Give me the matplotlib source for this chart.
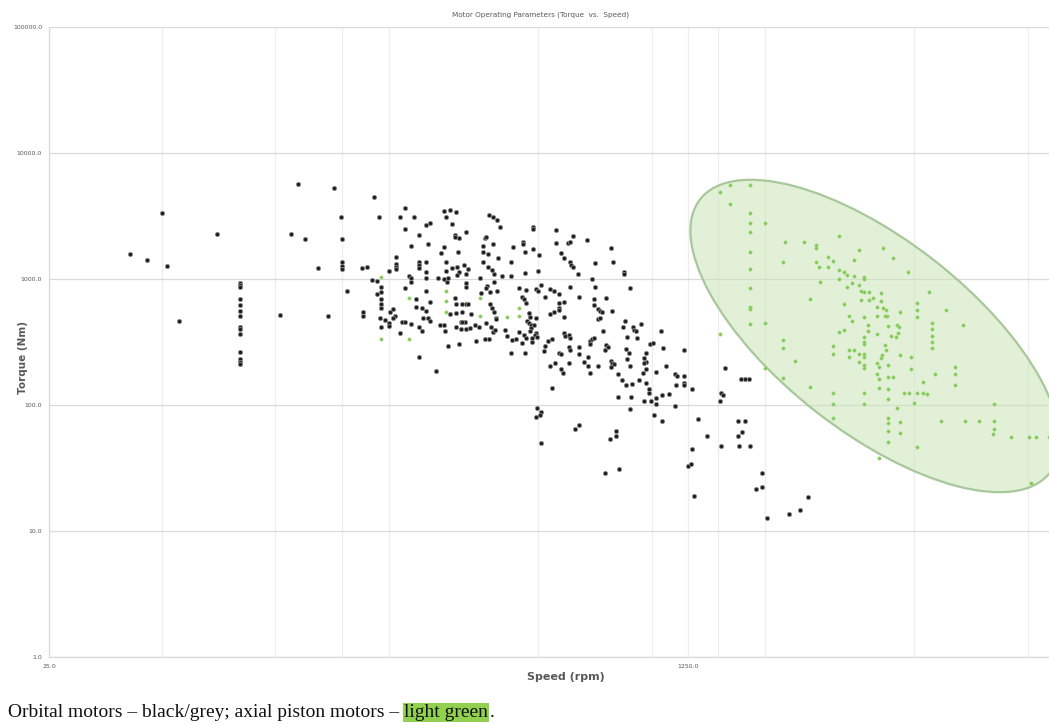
import matplotlib
matplotlib.use("Agg")
import matplotlib.pyplot as plt
from matplotlib.patches import Ellipse
from matplotlib import transforms

# ---------------- data (speed rpm, torque Nm) ----------------
orbital_points = [
    (41, 1590), (45.5, 1415), (50, 3340), (51.4, 1260), (55.5, 465), (70, 2290),
    (80.3, 935), (80.3, 897), (80.3, 859), (80.3, 694), (80.3, 622), (80.3, 560), (80.3, 510),
    (80.3, 419), (80.3, 401), (80.3, 366), (80.3, 262), (80.3, 230), (80.3, 221), (80.3, 212),
    (103, 514), (110, 2290), (115, 5640), (120, 2090), (130, 1220), (138, 509), (143.5, 5300),
    (149, 3120), (150, 2070), (150, 1360), (150, 1275), (150, 1200), (155, 807), (183, 4500),
    (188, 3120), (170, 1215), (175, 1240), (171, 549), (171, 509), (181, 982), (186, 964), (186, 756),
    (191, 859), (191, 793), (191, 690), (191, 633), (191, 584), (200, 1157), (209, 1500), (209, 1316),
    (209, 1250), (209, 1200), (190, 493), (196, 473), (191, 419), (200, 445), (200, 426), (202, 549),
    (205, 578), (208, 509), (206, 487), (215, 375), (221, 3690), (215, 3120), (234, 3120), (221, 2500),
    (230, 1840), (241, 2240), (221, 843), (217, 454), (221, 458), (230, 437), (227, 1060), (229, 1012),
    (229, 942), (236, 690), (236, 596), (241, 1370), (241, 1290), (241, 1216), (251, 2680), (258, 2800),
    (254, 1885), (251, 1370), (251, 1130), (251, 1020), (251, 803), (257, 660), (245, 584), (251, 557),
    (247, 487), (255, 493), (258, 465), (241, 419), (245, 389), (241, 239), (268, 187), (270, 1012),
    (280, 1000), (280, 3470), (292, 3510), (302, 3385), (284, 3090), (295, 2730), (276, 1600), (280, 1805),
    (285, 1357), (284, 1157), (288, 1019), (295, 1216), (286, 942), (292, 524), (274, 432), (280, 432),
    (282, 389), (288, 294), (301, 2237), (301, 2144), (308, 2120), (305, 1650), (304, 1235), (307, 1130),
    (304, 1075), (321, 2370), (318, 1290), (326, 1193), (322, 1088), (322, 924), (322, 868), (301, 711),
    (302, 629), (314, 633), (322, 633), (326, 633), (302, 540), (314, 549), (331, 530), (311, 458),
    (320, 458), (302, 413), (312, 401), (322, 401), (330, 410), (314, 454), (307, 303), (340, 432),
    (348, 419), (342, 324), (350, 1012), (351, 770), (356, 1830), (356, 1630), (356, 1357), (361, 2105),
    (362, 2167), (368, 1570), (368, 1250), (365, 881), (364, 842), (372, 793), (372, 629), (376, 584),
    (381, 549), (385, 493), (387, 481), (362, 445), (374, 419), (378, 382), (383, 394), (361, 334),
    (370, 334), (370, 3220), (378, 3125), (389, 2940), (396, 2570), (380, 1885), (390, 1472), (377, 1178),
    (381, 1088), (381, 952), (389, 803), (401, 1057), (407, 394), (413, 353), (423, 1057), (424, 1371),
    (427, 1795), (425, 328), (436, 334), (423, 259), (445, 850), (443, 378),
    (483, 2600), (483, 2480), (455, 1956), (455, 1885), (462, 1630), (483, 1732), (503, 1552), (462, 1121),
    (498, 1163), (557, 2450), (557, 1920), (598, 1920), (608, 1977), (617, 2205), (672, 2040), (575, 1618),
    (586, 1478), (608, 1371), (612, 1300), (620, 1250), (638, 1088), (778, 1754), (789, 1371), (706, 1331),
    (844, 1141), (844, 1088), (695, 995), (706, 868), (608, 859), (640, 716), (757, 711), (874, 843),
    (538, 833), (549, 803), (567, 760), (522, 716), (584, 660), (567, 641), (567, 584), (567, 567),
    (536, 527), (549, 549), (586, 499), (703, 690), (703, 622), (721, 578), (731, 560), (738, 549),
    (786, 560), (721, 481), (729, 487), (743, 387), (848, 467), (839, 418), (892, 418), (901, 394),
    (912, 389), (935, 442), (862, 345), (916, 342), (1057, 389), (464, 818), (493, 833), (498, 803),
    (508, 897), (453, 716), (458, 690), (464, 648), (471, 540), (476, 499), (493, 487), (466, 467),
    (471, 445), (478, 432), (487, 432), (478, 407), (474, 389), (493, 375), (490, 358), (496, 348),
    (481, 338), (458, 358), (465, 338), (453, 308), (481, 318), (462, 260), (522, 294), (529, 324),
    (544, 332), (517, 268), (586, 370), (590, 353), (602, 358), (608, 338), (567, 260), (575, 254),
    (605, 287), (608, 273), (640, 290), (640, 254), (685, 324), (694, 334), (703, 338), (685, 303),
    (757, 300), (764, 289), (754, 273), (676, 240), (662, 221), (605, 215), (554, 217), (536, 204),
    (576, 192), (678, 204), (721, 204), (583, 179), (685, 181), (781, 225), (786, 215), (793, 212),
    (778, 201), (853, 277), (870, 260), (862, 230), (879, 204), (814, 176), (836, 158), (853, 144),
    (888, 147), (925, 158), (966, 260), (956, 235), (966, 221), (956, 215), (951, 179), (966, 192),
    (966, 149), (990, 305), (1010, 311), (1072, 282), (1028, 184), (1090, 204), (984, 134), (984, 125),
    (1028, 113), (994, 108), (957, 108), (1068, 120), (1115, 122), (1155, 176), (1172, 171), (1220, 171),
    (1160, 144), (1220, 149), (1220, 143), (1283, 134), (1220, 273), (816, 116), (883, 116), (874, 93),
    (1028, 102), (1015, 83), (1068, 75), (1155, 99), (1329, 78), (495, 95), (508, 88), (505, 84),
    (493, 81), (640, 69), (627, 65), (544, 137),
    (508, 50), (754, 29), (817, 31), (774, 54), (803, 57), (803, 62), (1279, 45), (1253, 33),
    (1270, 34), (1296, 19), (1401, 57), (1568, 198), (1527, 125), (1552, 120), (1517, 108), (1727, 160),
    (1773, 160), (1820, 160), (1693, 74), (1773, 74), (1700, 57), (1745, 61), (1527, 47), (1706, 47.5),
    (1830, 47), (1972, 29), (1900, 21.4), (1972, 22.2), (2026, 12.6), (2322, 13.7), (2481, 14.7),
    (2600, 18.5),
]

piston_points = [
    (191, 1030), (191, 334), (226, 703), (226, 334), (285, 807), (285, 669), (285, 544), (350, 510),
    (350, 703), (413, 499), (445, 584), (445, 505),
    (1517, 4920), (1617, 5570), (1828, 5570), (1617, 3920), (1828, 3360), (1828, 2800), (1828, 2350),
    (1828, 1650), (1828, 1194), (1828, 853), (1828, 602), (1828, 575), (1828, 437), (2000, 2770),
    (2000, 450), (2000, 196), (1520, 366), (2266, 1956), (2234, 1371), (2234, 328), (2234, 282),
    (2234, 165), (2538, 1977), (2742, 1862), (2742, 1748), (2742, 1371), (2783, 1251), (2941, 1503),
    (2941, 1251), (3043, 1397), (2811, 942), (3146, 2205), (3558, 1700), (3462, 1415), (3146, 1178),
    (3146, 1000), (3243, 1141), (3306, 1075), (3462, 1057), (3667, 1042), (3667, 1000), (3306, 868),
    (3413, 935), (3558, 897), (3607, 807), (3667, 793), (3781, 793), (2638, 690), (3243, 633),
    (3607, 681), (3781, 681), (3880, 711), (3357, 510), (3413, 467), (3667, 499), (3973, 596),
    (3973, 505), (3146, 382), (3243, 394), (3759, 430), (3759, 389), (3973, 366), (3667, 348),
    (3667, 319), (3667, 303), (3043, 294), (3043, 254), (3357, 273), (3462, 273), (3357, 239),
    (3558, 254), (3667, 252), (3667, 240), (3570, 221), (3667, 206), (3667, 197), (3973, 215),
    (4037, 201), (2407, 225), (2638, 140), (3043, 124), (3043, 101), (3043, 79), (3667, 124),
    (3667, 101), (3973, 177), (4037, 160), (4037, 136), (4037, 38),
    (4121, 1773), (4382, 1477), (4822, 1130), (4078, 779), (4078, 672), (4121, 584), (4200, 567),
    (4226, 510), (4175, 505), (4590, 544), (5085, 641), (5085, 567), (5085, 499), (5466, 784),
    (6080, 567), (6733, 432), (4250, 424), (4496, 432), (4560, 414), (4520, 372), (4470, 345),
    (4336, 353), (5577, 450), (5577, 400), (5577, 353), (5577, 319), (5577, 282), (4175, 300),
    (4200, 273), (4095, 250), (4078, 234), (4590, 248), (4902, 239), (4266, 208), (4902, 193),
    (4250, 167), (4382, 167), (4266, 133), (4266, 111), (5268, 153), (5657, 177), (6394, 200),
    (6394, 177), (6394, 144), (4705, 124), (4849, 124), (5085, 124), (5268, 124), (5413, 122),
    (4985, 104), (4496, 94), (4266, 79), (4266, 71.5), (4266, 62.5), (4266, 50.5), (4590, 73.6),
    (4590, 59.6), (5085, 46), (5893, 75), (6830, 75), (7410, 75), (8144, 102), (8144, 75),
    (8144, 65), (8094, 59), (9056, 56), (10100, 56), (10500, 56), (11380, 56), (10240, 24),
]

x_major_ticks = [25, 1250]
x_major_labels = ["25.0", "1250.0"]
x_minor_grid = [50, 100, 150, 200, 500, 1000, 1500, 2000, 5000, 10000]
y_ticks = [1, 10, 100, 1000, 10000, 100000]
y_labels = ["1.0", "10.0", "100.0", "1000.0", "10000.0", "100000.0"]

title_text = "Motor Operating Parameters (Torque  vs.  Speed)"
x_title = "Speed (rpm)"
y_title = "Torque (Nm)"
caption_main = "Orbital motors \u2013 black/grey; axial piston motors \u2013 "
caption_highlight = "light green"
caption_end = "."

# highlight region (axial piston cluster)
region_center = (3930, 353)

# ---------------- figure ----------------
W, H = 1049, 724
fig = plt.figure(figsize=(W / 100, H / 100), dpi=100)
ax = fig.add_axes([49 / W, (H - 657) / H, 1000 / W, 630 / H])
ax.set_xscale("log")
ax.set_yscale("log")
ax.set_xlim(25, 11400)
ax.set_ylim(1, 100000)

ax.set_xticks(x_major_ticks)
ax.set_xticklabels(x_major_labels)
ax.set_xticks(x_minor_grid, minor=True)
ax.set_xticklabels([], minor=True)
ax.set_yticks(y_ticks)
ax.set_yticklabels(y_labels)
ax.yaxis.set_minor_locator(matplotlib.ticker.NullLocator())
ax.tick_params(which="both", length=0, labelsize=4.5, labelcolor="#595959", pad=5)

ax.grid(which="major", axis="y", color="#d9d9d9", lw=0.9)
ax.grid(which="both", axis="x", color="#eeeeee", lw=0.9)
ax.set_axisbelow(True)
for s in ["top", "right"]:
    ax.spines[s].set_visible(False)
for s in ["left", "bottom"]:
    ax.spines[s].set_color("#d9d9d9")
    ax.spines[s].set_linewidth(0.9)

# highlight ellipse, sized in screen inches, centred on a data point
trans = fig.dpi_scale_trans + transforms.ScaledTranslation(
    region_center[0], region_center[1], ax.transData)
ell = Ellipse((0, 0), width=4.44, height=1.92, angle=-38, transform=trans,
              facecolor="#c9e5b5", alpha=0.55, edgecolor="none", zorder=1)
ax.add_patch(ell)
ell2 = Ellipse((0, 0), width=4.44, height=1.92, angle=-38, transform=trans,
               facecolor="none", edgecolor="#a8c79a", lw=1.6, zorder=1.1)
ax.add_patch(ell2)

ox = [p[0] for p in orbital_points]
oy = [p[1] for p in orbital_points]
px = [p[0] for p in piston_points]
py = [p[1] for p in piston_points]

ax.scatter(ox, oy, s=9, c="#1c1c1c", edgecolors="#8a8a8a", linewidths=0.6, zorder=3)
ax.scatter(px, py, s=6, c="#80c853", edgecolors="#a9db8a", linewidths=0.4, zorder=3)

ax.set_ylabel(y_title, fontsize=7.5, color="#595959", fontweight="semibold")
ax.yaxis.set_label_coords(-21 / 1000, (657 - 358) / 630)
ax.set_xlabel(x_title, fontsize=8, color="#595959", fontweight="semibold")
ax.xaxis.set_label_coords((566 - 49) / 1000, (657 - 672) / 630)

fig.text(541 / W, 1 - 15 / H, title_text, ha="center", va="center",
         fontsize=5.2, color="#595959")

# caption with highlighted words
renderer = fig.canvas.get_renderer()
base_y = 1 - 717 / H
cap_kw = dict(fontsize=14, family="Liberation Serif", va="baseline", color="#111111")
t1 = fig.text(8 / W, base_y, caption_main, **cap_kw)
bb1 = t1.get_window_extent(renderer)
t2 = fig.text(bb1.x1 / W, base_y, caption_highlight,
              bbox=dict(facecolor="#92d050", edgecolor="none", pad=1.0), **cap_kw)
bb2 = t2.get_window_extent(renderer)
fig.text(bb2.x1 / W + 1.5 / W, base_y, caption_end, **cap_kw)

fig.savefig("out.png", dpi=100)
